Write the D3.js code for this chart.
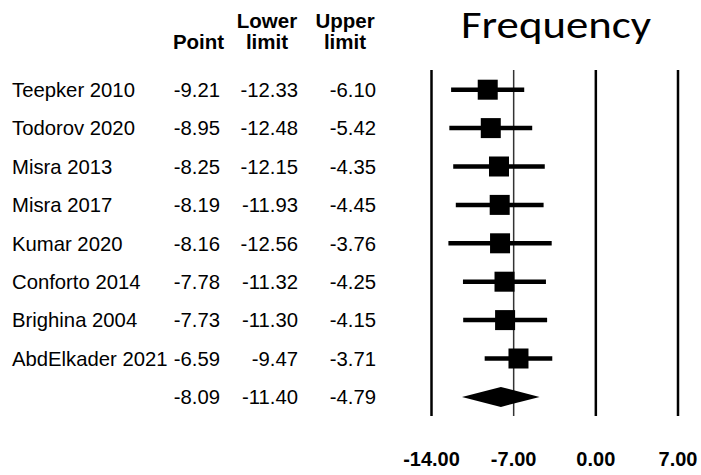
<!DOCTYPE html>
<html>
<head>
<meta charset="utf-8">
<script src="https://cdn.jsdelivr.net/npm/d3@7"></script>
<style>
  body { margin: 0; background: #fff; }
  text { font-family: "Liberation Sans", Arial, sans-serif; }
</style>
</head>
<body>
<svg id="forest" width="701" height="475"></svg>
<script>
// study rows, top to bottom
const studies = ["Teepker 2010", "Todorov 2020", "Misra 2013", "Misra 2017", "Kumar 2020",
                 "Conforto 2014", "Brighina 2004", "AbdElkader 2021"];
const pointEst = [-9.21, -8.95, -8.25, -8.19, -8.16, -7.78, -7.73, -6.59];
const lowerLim = [-12.33, -12.48, -12.15, -11.93, -12.56, -11.32, -11.30, -9.47];
const upperLim = [-6.10, -5.42, -4.35, -4.45, -3.76, -4.25, -4.15, -3.71];

// pooled estimate
const pooled = { point: -8.09, lower: -11.40, upper: -4.79 };

const tickValues = [-14, -7, 0, 7];

var svg = d3.select("#forest");
const width = +svg.attr("width");
const height = +svg.attr("height");

const rowTop = 89.7;
const rowStep = 38.4;
const boxSize = 20;
const bodySize = "20.3px";

// plain hyphen for negatives, like the original table
const fmt = d3.formatLocale({ decimal: ".", thousands: ",", grouping: [3], currency: ["", ""], minus: "-" }).format(".2f");

let x = d3.scaleLinear().domain([-14, 7]).range([431.5, 678]);
let y = d3.scalePoint()
    .domain(d3.range(studies.length + 1))
    .range([rowTop, rowTop + rowStep * studies.length]);

const lineTop = 70;
const lineBottom = 416;

// column headers
const headers = [
    { x: 198.5, lines: ["", "Point"] },
    { x: 267, lines: ["Lower", "limit"] },
    { x: 345, lines: ["Upper", "limit"] }
];
headers.forEach(h => {
    h.lines.forEach((t, i) => {
        svg.append("text")
            .attr("x", h.x)
            .attr("y", 27.5 + i * 21)
            .attr("text-anchor", "middle")
            .style("font-size", "20.5px")
            .style("font-weight", "bold")
            .text(t);
    });
});

// title
svg.append("text")
    .attr("x", 461)
    .attr("y", 37.5)
    .attr("textLength", 190)
    .attr("lengthAdjust", "spacingAndGlyphs")
    .style("font-family", "Carlito, 'Open Sans', sans-serif")
    .style("font-size", "39px")
    .text("Frequency");

// reference lines
tickValues.forEach(v => {
    svg.append("line")
        .attr("x1", x(v)).attr("x2", x(v))
        .attr("y1", lineTop).attr("y2", lineBottom)
        .style("stroke", v === -7 ? "#333" : "#000")
        .style("stroke-width", v === -7 ? 1.5 : 2.5);
});

// tick labels
svg.append("g").selectAll("text")
    .data(tickValues)
    .join("text")
    .attr("x", d => x(d))
    .attr("y", 466)
    .attr("text-anchor", "middle")
    .style("font-size", "20px")
    .style("font-weight", "bold")
    .text(d => fmt(d));

// study rows
studies.forEach((name, i) => {
    let cy = y(i);
    let ty = cy + 7.3;
    svg.append("text").attr("x", 12).attr("y", ty).style("font-size", bodySize).text(name);
    svg.append("text").attr("x", 220).attr("y", ty).attr("text-anchor", "end").style("font-size", bodySize).text(fmt(pointEst[i]));
    svg.append("text").attr("x", 298).attr("y", ty).attr("text-anchor", "end").style("font-size", bodySize).text(fmt(lowerLim[i]));
    svg.append("text").attr("x", 376).attr("y", ty).attr("text-anchor", "end").style("font-size", bodySize).text(fmt(upperLim[i]));

    svg.append("line")
        .attr("x1", x(lowerLim[i])).attr("x2", x(upperLim[i]))
        .attr("y1", cy).attr("y2", cy)
        .style("stroke", "#000")
        .style("stroke-width", 4.5);

    svg.append("rect")
        .attr("x", x(pointEst[i]) - boxSize / 2)
        .attr("y", cy - boxSize / 2)
        .attr("width", boxSize)
        .attr("height", boxSize)
        .style("fill", "#000");
});

// pooled row
let py = y(studies.length);
let pty = py + 7.3;
svg.append("text").attr("x", 220).attr("y", pty).attr("text-anchor", "end").style("font-size", bodySize).text(fmt(pooled.point));
svg.append("text").attr("x", 298).attr("y", pty).attr("text-anchor", "end").style("font-size", bodySize).text(fmt(pooled.lower));
svg.append("text").attr("x", 376).attr("y", pty).attr("text-anchor", "end").style("font-size", bodySize).text(fmt(pooled.upper));

svg.append("path")
    .attr("d", "M" + x(pooled.lower) + "," + py +
               "L" + x(pooled.point) + "," + (py - 10) +
               "L" + x(pooled.upper) + "," + py +
               "L" + x(pooled.point) + "," + (py + 10) + "Z")
    .style("fill", "#000");
</script>
</body>
</html>
